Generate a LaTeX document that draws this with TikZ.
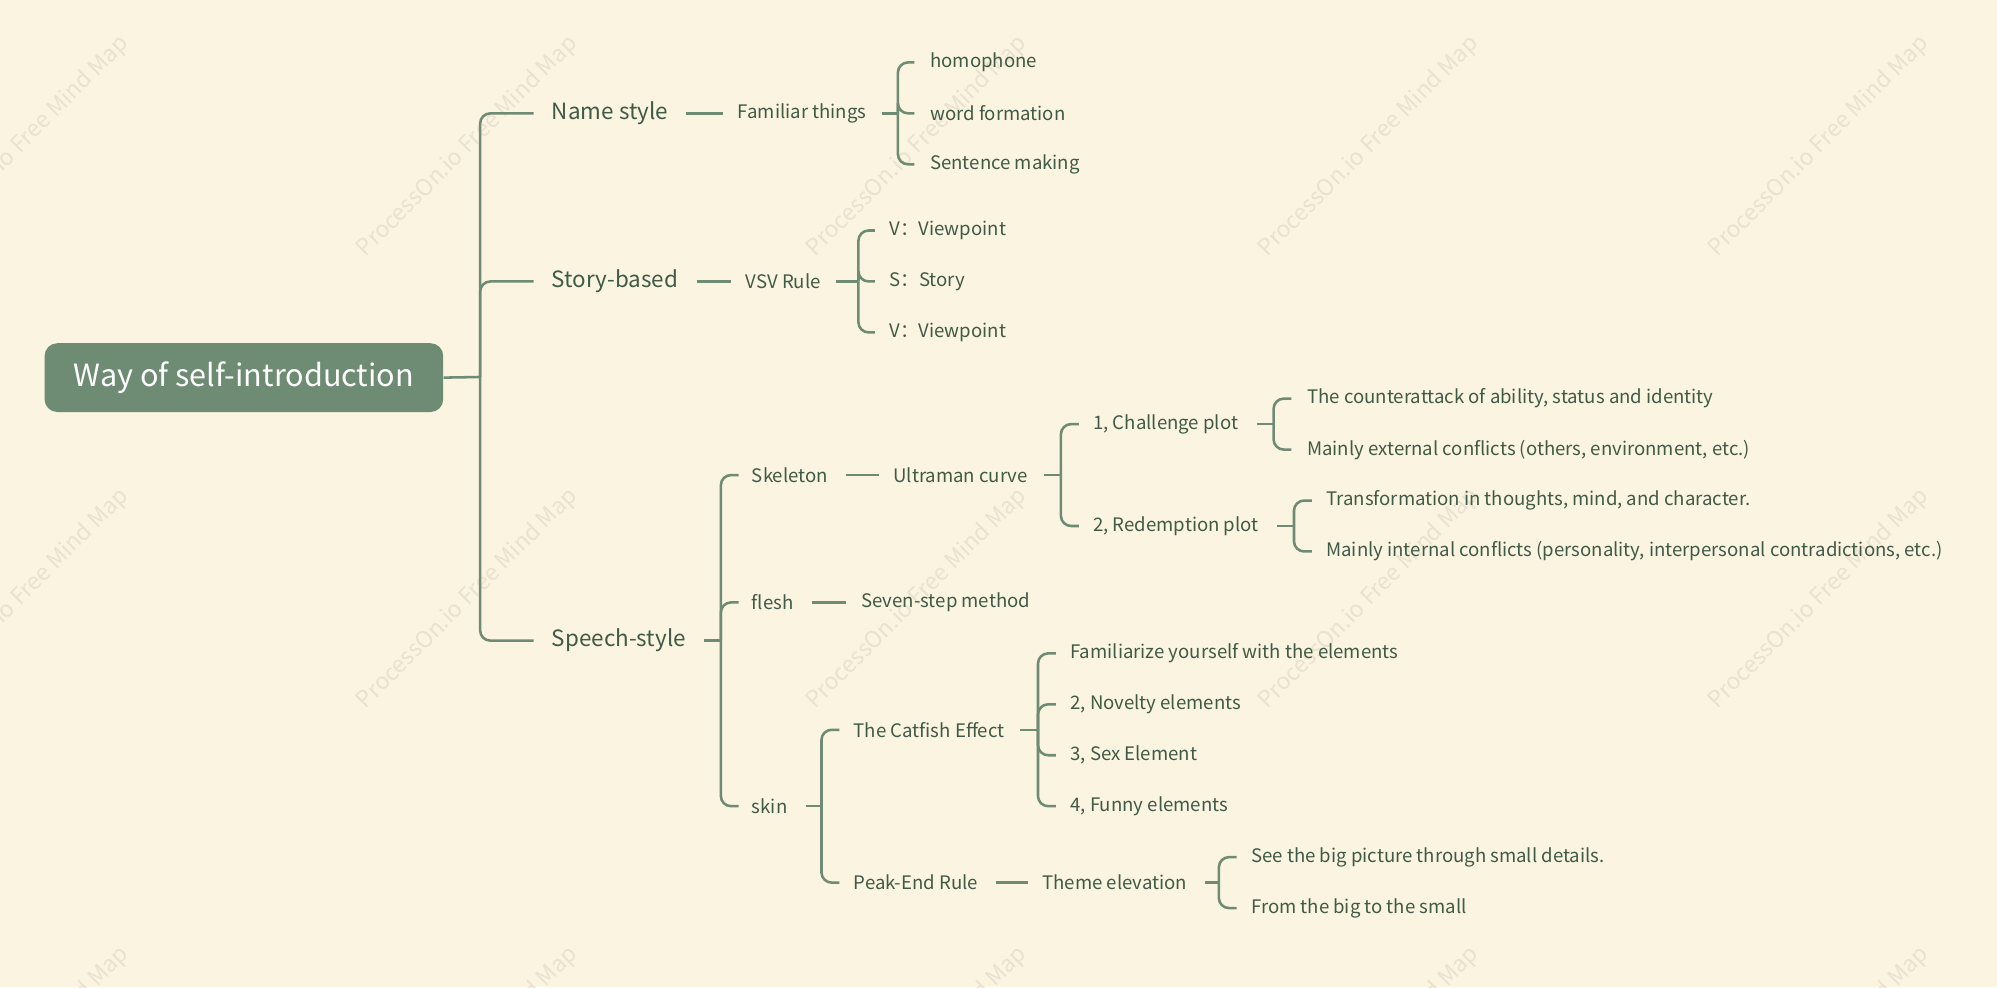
\documentclass[tikz,border=0pt]{standalone}
\usepackage{fontspec}
\setmainfont{Noto Sans CJK SC}
\definecolor{bg}{HTML}{FBF4E1}
\definecolor{ln}{HTML}{6E8B74}
\definecolor{tx}{HTML}{3F5A47}
\definecolor{wm}{HTML}{E9E2D0}
\begin{document}
\begin{tikzpicture}[x=0.5pt,y=-0.5pt,
  lbl/.style={anchor=west,inner sep=0pt,text=tx,font=\fontsize{7.3pt}{8pt}\selectfont},
  big/.style={anchor=west,inner sep=0pt,text=tx,font=\fontsize{8.8pt}{10pt}\selectfont},
  con/.style={draw=ln,line width=1pt},
  rc/.style={con,rounded corners=4pt},
  wmk/.style={text=wm,rotate=45,font=\fontsize{9pt}{10pt}\selectfont}]
\fill[bg] (0,0) rectangle (1568,775);
\useasboundingbox (0,0) rectangle (1568,775);
\begin{scope}
\clip (0,0) rectangle (1568,775);
\foreach \x in {15,367,720,1075,1428}{
  \foreach \y in {115,470,830}{
    \node[wmk] at (\x,\y) {ProcessOn.io Free Mind Map};}}
\end{scope}
% root
\node[fill=ln,rounded corners=5pt,minimum width=156.5pt,minimum height=27pt,text=white,font=\fontsize{12pt}{14pt}\selectfont,inner sep=0pt] (root) at (191.5,296.5) {\raisebox{-1pt}{Way of self-introduction}};
\node[big] (n1) at (433,89) {Name style};
\node[big] (n2) at (433,221) {Story-based};
\node[big] (n3) at (433,503) {Speech-style};
\draw[con] (root.east) -- (377,296);
\foreach \c in {n1,n2,n3}{\draw[rc] (377,296) |- ([xshift=-7pt]\c.west);}
% Name style
\node[lbl] (ft) at (579,89) {Familiar things};
\draw[con] ([xshift=7pt]n1.east) -- ([xshift=-5.5pt]ft.west);
\node[lbl] (h1) at (730,49) {homophone};
\node[lbl] (h2) at (730,89) {word formation};
\node[lbl] (h3) at (730,129) {Sentence making};
\draw[con] ([xshift=6pt]ft.east) -- (705,89);
\foreach \c in {h1,h2,h3}{\draw[rc] (705,89) |- ([xshift=-6pt]\c.west);}
% Story
\node[lbl] (vsv) at (585,221) {VSV Rule};
\draw[con] ([xshift=7pt]n2.east) -- ([xshift=-5.5pt]vsv.west);
\node[lbl] (s1) at (698,181) {V：Viewpoint};
\node[lbl] (s2) at (698,221) {S：Story};
\node[lbl] (s3) at (698,261) {V：Viewpoint};
\draw[con] ([xshift=6pt]vsv.east) -- (674,221);
\foreach \c in {s1,s2,s3}{\draw[rc] (674,221) |- ([xshift=-5.5pt]\c.west);}
% Speech
\node[lbl] (sk) at (590,373) {Skeleton};
\node[lbl] (fl) at (590,473) {flesh};
\node[lbl] (sn) at (590,633) {skin};
\draw[con] ([xshift=7pt]n3.east) -- (566,503);
\foreach \c in {sk,fl,sn}{\draw[rc] (566,503) |- ([xshift=-5pt]\c.west);}
% Skeleton
\node[lbl] (uc) at (701,373) {Ultraman curve};
\draw[con] ([xshift=7pt]sk.east) -- ([xshift=-5.5pt]uc.west);
\node[lbl] (cp) at (858,333) {1, Challenge plot};
\node[lbl] (rp) at (858,413) {2, Redemption plot};
\draw[con] ([xshift=6pt]uc.east) -- (833,373);
\foreach \c in {cp,rp}{\draw[rc] (833,373) |- ([xshift=-5.5pt]\c.west);}
\node[lbl] (c1) at (1026,313) {The counterattack of ability, status and identity};
\node[lbl] (c2) at (1026,353) {Mainly external conflicts (others, environment, etc.)};
\draw[con] ([xshift=7pt]cp.east) -- (1000,333);
\foreach \c in {c1,c2}{\draw[rc] (1000,333) |- ([xshift=-6pt]\c.west);}
\node[lbl] (r1) at (1041,393) {Transformation in thoughts, mind, and character.};
\node[lbl] (r2) at (1041,433) {Mainly internal conflicts (personality, interpersonal contradictions, etc.)};
\draw[con] ([xshift=7pt]rp.east) -- (1016,413);
\foreach \c in {r1,r2}{\draw[rc] (1016,413) |- ([xshift=-5.5pt]\c.west);}
% flesh
\node[lbl] (ss) at (676,473) {Seven-step method};
\draw[con] ([xshift=7pt]fl.east) -- ([xshift=-6pt]ss.west);
% skin
\node[lbl] (cf) at (670,573) {The Catfish Effect};
\node[lbl] (pe) at (670,693) {Peak-End Rule};
\draw[con] ([xshift=7pt]sn.east) -- (645,633);
\foreach \c in {cf,pe}{\draw[rc] (645,633) |- ([xshift=-5.5pt]\c.west);}
\node[lbl] (k1) at (840,513) {Familiarize yourself with the elements};
\node[lbl] (k2) at (840,553) {2, Novelty elements};
\node[lbl] (k3) at (840,593) {3, Sex Element};
\node[lbl] (k4) at (840,633) {4, Funny elements};
\draw[con] ([xshift=6pt]cf.east) -- (815,573);
\foreach \c in {k1,k2,k3,k4}{\draw[rc] (815,573) |- ([xshift=-5.5pt]\c.west);}
\node[lbl] (te) at (818,693) {Theme elevation};
\draw[con] ([xshift=7pt]pe.east) -- ([xshift=-5.5pt]te.west);
\node[lbl] (t1) at (982,673) {See the big picture through small details.};
\node[lbl] (t2) at (982,713) {From the big to the small};
\draw[con] ([xshift=7pt]te.east) -- (957,693);
\foreach \c in {t1,t2}{\draw[rc] (957,693) |- ([xshift=-5.5pt]\c.west);}
\end{tikzpicture}
\end{document}
